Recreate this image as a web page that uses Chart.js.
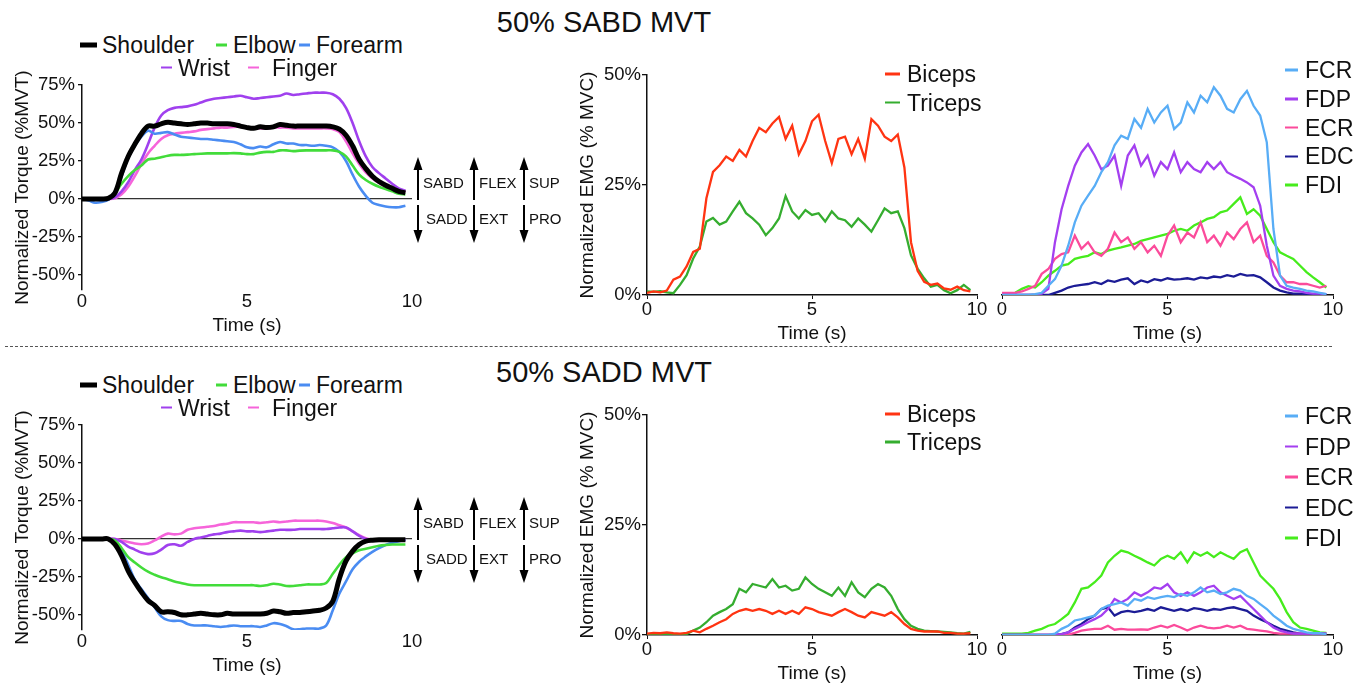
<!DOCTYPE html>
<html>
<head>
<meta charset="utf-8">
<title>50% SABD / SADD MVT</title>
<script src="https://cdn.jsdelivr.net/npm/chart.js@4.4.0/dist/chart.umd.min.js"></script>
<style>
    body { margin: 0; background: #fff; font-family: "Liberation Sans", Arial, Helvetica, sans-serif; color: #111; }
    #figura { position: relative; width: 1371px; height: 687px; overflow: hidden; }
    canvas { position: absolute; }
    .titulo { position: absolute; font-size: 29px; transform: translate(-50%, -50%); white-space: nowrap; }
    .leg { position: absolute; font-size: 23px; line-height: 1; white-space: nowrap; transform: translateY(-50%); display: flex; align-items: center; }
    .leg i { display: inline-block; }
    .dir { position: absolute; font-size: 15px; line-height: 1; transform: translateY(-50%); }
    .corte { position: absolute; left: 5px; width: 1327px; top: 346px; border-top: 1px dashed #555; }
    svg { position: absolute; left: 0; top: 0; }
</style>
</head>
<body>
<div id="figura">
    <div class="titulo" style="left:604px; top:22px;">50% SABD MVT</div>
    <div class="titulo" style="left:604px; top:372px;">50% SADD MVT</div>
    <div class="corte"></div>
    <svg id="flechas" width="1371" height="687"></svg>

    <canvas id="torqueSabd" width="427" height="269" style="left:0px; top:71px;"></canvas>
    <canvas id="brazoSabd" width="432" height="282" style="left:560px; top:63px;"></canvas>
    <canvas id="manoSabd" width="358" height="282" style="left:990px; top:63px;"></canvas>

    <canvas id="torqueSadd" width="427" height="269" style="left:0px; top:411px;"></canvas>
    <canvas id="brazoSadd" width="432" height="282" style="left:560px; top:403px;"></canvas>
    <canvas id="manoSadd" width="358" height="282" style="left:990px; top:403px;"></canvas>
</div>

<script>
// ==============================
// DATOS
// ==============================

const tiempo = [0, 0.2, 0.4, 0.6, 0.8, 1, 1.2, 1.4, 1.6, 1.8, 2, 2.2, 2.4, 2.6, 2.8, 3, 3.2, 3.4, 3.6, 3.8, 4, 4.2, 4.4, 4.6, 4.8, 5, 5.2, 5.4, 5.6, 5.8, 6, 6.2, 6.4, 6.6, 6.8, 7, 7.2, 7.4, 7.6, 7.8, 8, 8.2, 8.4, 8.6, 8.8, 9, 9.2, 9.4, 9.6, 9.8];

const marcasTiempo = [0, 5, 10];
const marcasTorque = [-50, -25, 0, 25, 50, 75];
const marcasEmg = [0, 25, 50];

const nombresTorque = ["Shoulder", "Elbow", "Forearm", "Wrist", "Finger"];
const coloresTorque = ["#000000", "#42dc3a", "#4a8cf2", "#a040ee", "#f664da"];

const nombresBrazo = ["Biceps", "Triceps"];
const coloresBrazo = ["#ff3412", "#35ad2f"];

const nombresMano = ["FCR", "FDP", "ECR", "EDC", "FDI"];
const coloresMano = ["#58adf6", "#a43ff0", "#fb4b9b", "#1c1c96", "#46ec1c"];

// Torque normalizado (%MVT) - 50% SABD
const shoulderSabd = [0, 0, 0, 0, 0.5, 4, 17, 28, 36, 43, 48, 48, 49.5, 50.5, 50, 49.5, 49, 49.5, 50, 50, 49.5, 49.5, 49.5, 49, 48, 47, 46.5, 47.5, 47, 47.5, 49, 48.5, 48, 48, 48, 48, 48, 48, 47.5, 46, 42, 35, 26, 20, 15, 11.5, 9, 7, 5, 4];
const elbowSabd = [0, 0, 0, 0, 0.3, 4, 10, 15, 19, 22, 26, 26.5, 27.5, 28.5, 29, 29, 29.2, 29.5, 29.8, 30, 30, 30, 30, 30.2, 30, 29.5, 29.5, 30.5, 31, 31, 32, 32, 31.5, 31.8, 32, 32, 32, 32, 32, 31, 28, 22, 16, 12.5, 10, 8, 6.5, 5, 3.5, 3];
const forearmSabd = [0, -1, -2.5, -2, -0.5, 4, 15, 27, 35, 41, 45, 43, 43.5, 44, 42.5, 41, 40.5, 40, 39.5, 39.5, 39, 38.5, 38, 37.5, 36, 34, 33.5, 34.5, 34, 36, 37.5, 36.5, 36.5, 35.5, 35.5, 35, 35.5, 35, 34, 31, 25, 16, 8, 2, -2.5, -4, -5, -5.5, -5.5, -4.5];
const wristSabd = [0, 0, 0, 0, 0, 1, 5, 11, 19, 26, 36, 47, 55, 58.5, 60, 60.5, 61, 62, 63.5, 65, 66, 66.5, 67, 67.5, 68, 67, 66, 66.5, 67, 67.5, 68, 69.5, 68.5, 69, 69.5, 70, 70, 70, 69, 66, 60, 50, 38, 28, 21, 17, 13.5, 10, 7, 5.5];
const fingerSabd = [0, 0, 0, 0, 0, 0.5, 3, 8, 15, 23, 30, 35, 39.5, 42, 43, 43.5, 44, 44.5, 45.5, 46, 46.5, 47, 47, 47.5, 47.5, 47, 47, 46.5, 46.5, 47, 47, 47, 46.5, 46.5, 46.5, 46.5, 46.5, 46.5, 46, 44, 38, 30, 23, 17.5, 13.5, 10.5, 8, 6.5, 5, 4.5];

// Torque normalizado (%MVT) - 50% SADD
const shoulderSadd = [0, 0, 0, 0, 0, -3.7, -11, -21, -28.5, -35, -40.5, -43.8, -48, -48, -48.5, -50, -50, -49.5, -49, -49.5, -50, -50, -49, -49.5, -49.5, -49.5, -49.5, -49.5, -49, -47.5, -48, -49, -48.5, -48.5, -48, -47.5, -47, -45.5, -41, -26, -14.5, -8, -3.7, -1.5, -0.8, -0.5, -0.5, -0.5, -0.5, -0.5];
const elbowSadd = [0, 0, 0, 0, 0, -1, -6, -12, -15.5, -18.8, -21.6, -23.6, -25.3, -26.5, -28, -29, -30, -30.5, -30.5, -30.5, -30.5, -30.5, -30.5, -30.5, -30.5, -30.5, -30.5, -31, -30.5, -29.5, -30, -31, -31, -30.5, -30, -30, -30, -29, -23, -17, -12, -9.5, -7.5, -6.5, -5.5, -4.5, -4, -3.7, -3.7, -3.7];
const forearmSadd = [0, 0, 0, 0, 0, -2, -8, -17, -27, -33, -39, -45, -51, -53.5, -54, -54, -56, -57, -57, -57, -57.5, -58, -57.5, -57, -57.5, -57.5, -57.5, -58, -57, -55.5, -56, -57.5, -59.5, -59.5, -59, -59, -59, -57, -47, -36, -28, -20, -15, -11.5, -8.5, -6, -4, -2.5, -1.5, -0.5];
const wristSadd = [0, 0, 0, 0, 0, 0, -2, -5, -7, -9, -10, -9.5, -7, -4, -3.5, -4.5, -2, 0, 1, 2, 3, 3.5, 4.5, 5, 5.5, 5, 5, 4.5, 5, 5.5, 6, 6, 6, 6.5, 6.5, 6.5, 6.5, 6.5, 7, 7.5, 7.5, 5, 2, 0, -0.5, -0.5, -0.5, -0.5, -0.5, -0.5];
const fingerSadd = [0, 0, 0, 0, 0, 0, -1, -2, -3, -3.5, -3, -1, 1.5, 3.5, 3, 3.5, 6, 7, 7.5, 8, 8.5, 9.5, 10, 11, 11, 11, 11, 10.5, 11, 11.5, 11, 11.5, 12, 12, 12, 12, 12, 11.5, 10.5, 9, 7.5, 5, 2.5, 0.5, -0.5, -1, -1, -1, -1, -1];

// EMG normalizado (% MVC) - 50% SABD
const bicepsSabd = [0.5, 0.8, 0.6, 1, 3.5, 4.2, 6.5, 9.8, 10.5, 22, 28, 29.5, 31.5, 30.5, 33, 31.5, 35, 38, 37, 39, 40.5, 35.5, 38.5, 32, 35, 39.5, 41, 35, 30, 35.5, 36, 32, 35.5, 31, 40, 38.5, 36, 35, 36.5, 29, 12, 5.5, 3, 2.3, 2.6, 1.5, 1.2, 1.9, 1.1, 0.8];
const tricepsSabd = [0.8, 0.7, 0.9, 0.6, 0.4, 2.3, 4.5, 8.3, 11, 16.7, 17.5, 16, 16.7, 19, 21.2, 18.6, 17.4, 16, 13.6, 15.2, 17.4, 22.5, 19, 17.4, 19.3, 18.2, 18.6, 16.7, 19, 17.4, 17, 15.5, 17.4, 16, 14.4, 17, 19.7, 18.6, 19, 15.2, 9, 6, 3.8, 1.9, 2.3, 1.1, 0.4, 1.1, 2.3, 1.1];
const fcrSabd = [0, 0, 0, 0, 0, 0.2, 0.5, 2.1, 3.6, 6.7, 11.2, 16.5, 20.3, 22.6, 24.8, 27.9, 30.2, 34, 36.2, 35.5, 40, 38, 42.3, 39.2, 41.5, 43, 37.7, 39.2, 43.8, 41.5, 45.3, 43.8, 47.2, 45.3, 42.3, 41.5, 44.5, 46.4, 43, 40.8, 34.7, 15, 4.4, 2.1, 1.7, 1.4, 1, 0.8, 0.5, 0.2];
const fdpSabd = [0, 0, 0, 0, 0, 0, 0.3, 1.4, 12, 19.5, 24.8, 29.4, 32.4, 34.3, 31.7, 28.6, 29.4, 31.7, 24.8, 31.7, 34, 29.4, 31.7, 27.1, 30.2, 28.6, 32.4, 27.9, 30.2, 28.6, 27.9, 30.2, 28.6, 30.2, 27.9, 27.1, 26.4, 25.6, 24.5, 20.3, 11.2, 4.4, 2.1, 1.4, 1, 0.8, 0.5, 0.3, 0.3, 0.2];
const ecrSabd = [0.5, 0.5, 0.5, 0.8, 1.4, 2.1, 4.8, 5.9, 8.2, 9.3, 9.7, 13.5, 10.5, 12, 9.7, 8.9, 10.5, 14.2, 12, 13.1, 10.5, 12, 9.7, 11.2, 8.9, 13.5, 15.8, 12, 14.2, 13.1, 16.5, 12, 13.5, 11.2, 14.2, 12.7, 15, 16.5, 12, 13.5, 8.9, 7.4, 4.4, 2.9, 2.9, 2.5, 2.5, 2.1, 1.7, 2.1];
const edcSabd = [0, 0, 0, 0, 0, 0, 0, 0, 0.5, 1, 1.7, 2.1, 2.3, 2.5, 2.9, 2.5, 3.3, 3, 3.5, 3.8, 2.5, 3.3, 2.9, 3.6, 3.3, 3.8, 3.5, 3.6, 3.8, 3.5, 4, 3.8, 4.2, 4, 4.5, 4.2, 4.8, 4.4, 4.5, 4, 2.9, 1.7, 1, 0.6, 0.3, 0.3, 0.2, 0.2, 0.1, 0.1];
const fdiSabd = [0.3, 0.3, 0.5, 1.4, 2, 1.7, 2.9, 4.4, 5.5, 6.7, 7, 8.2, 8.6, 8.9, 9.7, 9.3, 10.1, 10.5, 10.8, 11.2, 11.6, 12.3, 12.7, 13.1, 13.5, 13.9, 14.6, 15, 14.6, 15.8, 16.5, 17.3, 17.7, 18.8, 19.2, 20.7, 22.2, 18.4, 19.5, 18, 15, 12, 9.7, 8.9, 8.2, 6.7, 5.2, 4, 2.9, 1.7];

// EMG normalizado (% MVC) - 50% SADD
const bicepsSadd = [0.3, 0.5, 0.4, 0.6, 0.4, 0.3, 0.5, 1, 0.6, 1.4, 2.1, 2.9, 3.6, 4.8, 5.5, 5.9, 5.5, 5.9, 5.5, 4.8, 5.5, 4.8, 5.5, 4.8, 6.3, 5.9, 5.2, 4.8, 4.4, 5.2, 5.9, 5.2, 4.4, 4, 5.2, 4.8, 4.4, 5.2, 4, 2.5, 1.4, 1, 0.8, 0.8, 0.8, 0.5, 0.5, 0.3, 0.3, 0.4];
const tricepsSadd = [0.2, 0.2, 0.2, 0.2, 0.2, 0.2, 0.2, 1, 1.7, 2.9, 4.4, 5.2, 5.9, 7, 10.5, 9.7, 11.6, 11.2, 10.8, 12.7, 10.8, 11.2, 10.1, 10.5, 13.1, 11.6, 10.5, 9.7, 8.9, 10.8, 8.9, 12, 9.7, 8.6, 10.5, 11.6, 10.8, 8.9, 5.9, 3.6, 2.1, 1.4, 1, 0.9, 0.8, 0.7, 0.6, 0.4, 0.3, 0.7];
const fcrSadd = [0, 0, 0, 0, 0, 0, 0, 0, 0.3, 1.4, 2.1, 3.3, 3.6, 4, 4.4, 5.9, 6.7, 7, 7.4, 6.7, 8.2, 7.8, 8.6, 8.2, 8.6, 8.9, 8.6, 9.3, 8.9, 9.7, 10.8, 9.7, 10.1, 9.3, 9.7, 10.5, 10.1, 8.9, 8.2, 7, 5.9, 4.4, 3.3, 2.1, 1.4, 1, 0.6, 0.4, 0.4, 0.2];
const fdpSadd = [0, 0, 0, 0, 0, 0, 0, 0, 0, 0.2, 0.6, 1.4, 2.1, 2.9, 3.6, 4.4, 5.9, 8.2, 7.4, 8.2, 9.7, 8.9, 9.7, 10.8, 10.5, 11.6, 9.7, 8.9, 9.7, 8.9, 9.7, 10.8, 11.2, 9.7, 8.9, 8.2, 8.9, 7.4, 5.9, 4.4, 2.9, 1.7, 1, 0.6, 0.3, 0.3, 0.3, 0.3, 0.3, 0.3];
const ecrSadd = [0, 0, 0, 0, 0, 0, 0, 0, 0, 0, 0.1, 0.5, 1, 1.2, 1.4, 1.4, 2.1, 1.2, 1.4, 1.2, 1.2, 1.3, 1.2, 1.7, 2.1, 1.7, 2.3, 1.7, 1, 1.7, 2.1, 1.7, 1.5, 1.7, 2.1, 1.7, 2.1, 1.4, 1.2, 1, 0.8, 0.5, 0.3, 0.3, 0.3, 0.3, 0.3, 0.3, 0.3, 0.3];
const edcSadd = [0, 0, 0, 0, 0, 0, 0, 0, 0, 0.2, 0.6, 1.7, 2.5, 3.6, 4.4, 5.9, 6.3, 4.4, 5.2, 5.5, 5.2, 5.5, 5.9, 5.5, 6.3, 5.9, 5.5, 5.9, 5.5, 6.1, 5.9, 5.5, 5.9, 5.7, 6.1, 6.3, 5.9, 5.5, 4.4, 3.6, 2.9, 2.1, 1.4, 1, 0.6, 0.3, 0.3, 0.3, 0.3, 0.3];
const fdiSadd = [0.3, 0.3, 0.3, 0.3, 0.5, 1, 1.4, 2.1, 2.5, 3.6, 4.8, 7.4, 10.5, 10.8, 12, 13.5, 16.5, 18, 19.2, 18.8, 18, 17.3, 16.5, 15.8, 17.3, 18, 17.3, 18.8, 16.5, 18.8, 18, 18.8, 17.7, 18.8, 18, 17.3, 18.8, 19.5, 16.5, 13.5, 12, 10.5, 8.2, 5.2, 2.9, 1.7, 1.4, 1, 0.6, 0.5];

// ==============================
// GRAFICOS
// ==============================

Chart.defaults.font.family = '"Liberation Sans", Arial, Helvetica, sans-serif';
Chart.defaults.color = "#111";

function serie(valores) {
    return valores.map((v, i) => ({ x: tiempo[i], y: v }));
}

function crearPanel(id, series, nombres, colores, cfg) {

    const datasets = series.map((valores, i) => ({
        label: nombres[i],
        data: serie(valores),
        borderColor: colores[i],
        borderWidth: (cfg.grosores && cfg.grosores[i]) || cfg.grosor,
        pointRadius: 0,
        tension: cfg.suave ? 0.35 : 0,
        fill: false
    }));

    new Chart(document.getElementById(id), {
        type: "line",
        data: { datasets: datasets },
        options: {
            responsive: false,
            animation: false,
            events: [],
            layout: { padding: cfg.relleno },
            plugins: { legend: { display: false }, tooltip: { enabled: false } },
            scales: {
                x: {
                    type: "linear",
                    min: 0,
                    max: 10,
                    afterBuildTicks: eje => { eje.ticks = marcasTiempo.map(v => ({ value: v })); },
                    afterFit: eje => { eje.height = 50; },
                    border: { display: cfg.bordeX, color: "#111", width: 1.5 },
                    grid: { display: cfg.bordeX, drawOnChartArea: false, drawTicks: cfg.bordeX, tickLength: 4, color: "#111" },
                    ticks: { padding: cfg.padX, font: { size: 18.5 }, maxRotation: 0 },
                    title: { display: true, text: "Time (s)", font: { size: 19 }, padding: { top: 0, bottom: cfg.padTituloX } }
                },
                y: {
                    display: cfg.ejeY,
                    min: cfg.min,
                    max: cfg.max,
                    afterBuildTicks: eje => { eje.ticks = cfg.marcas.map(v => ({ value: v })); },
                    afterFit: eje => { eje.width = cfg.anchoY; },
                    border: { display: true, color: "#111", width: 1.5 },
                    grid: {
                        drawOnChartArea: cfg.lineaCero,
                        color: ctx => (cfg.lineaCero && ctx.tick && ctx.tick.value === 0) ? "#333" : "rgba(0,0,0,0)",
                        lineWidth: 1.3,
                        tickColor: "#111",
                        tickLength: cfg.largoMarca
                    },
                    ticks: { padding: cfg.padY, font: { size: 18.5 }, callback: v => v + "%" },
                    title: { display: true, text: cfg.tituloY, font: { size: 19 }, padding: { top: cfg.padTituloY, bottom: 0 } }
                }
            }
        }
    });
}

const cfgTorque = {
    min: -60, max: 75, marcas: marcasTorque, ejeY: true, anchoY: 82, lineaCero: true,
    largoMarca: 4, padY: 3, padX: 1, padTituloX: 3, padTituloY: 11, bordeX: false,
    tituloY: "Normalized Torque (%MVT)", suave: true, grosor: 2.6, grosores: [5],
    relleno: { left: 0, top: 12, right: 15, bottom: 0 }
};

const cfgBrazo = {
    min: 0, max: 50, marcas: marcasEmg, ejeY: true, anchoY: 87, lineaCero: false,
    largoMarca: 5, padY: 1, padX: 0, padTituloX: 0, padTituloY: 16, bordeX: true,
    tituloY: "Normalized EMG (% MVC)", suave: false, grosor: 2.3,
    relleno: { left: 0, top: 12, right: 15, bottom: 0 }
};

const cfgMano = Object.assign({}, cfgBrazo, {
    ejeY: false, anchoY: 0, relleno: { left: 12, top: 12, right: 15, bottom: 0 }
});

crearPanel("torqueSabd", [shoulderSabd, elbowSabd, forearmSabd, wristSabd, fingerSabd], nombresTorque, coloresTorque, cfgTorque);
crearPanel("brazoSabd", [bicepsSabd, tricepsSabd], nombresBrazo, coloresBrazo, cfgBrazo);
crearPanel("manoSabd", [fcrSabd, fdpSabd, ecrSabd, edcSabd, fdiSabd], nombresMano, coloresMano, cfgMano);

crearPanel("torqueSadd", [shoulderSadd, elbowSadd, forearmSadd, wristSadd, fingerSadd], nombresTorque, coloresTorque, cfgTorque);
crearPanel("brazoSadd", [bicepsSadd, tricepsSadd], nombresBrazo, coloresBrazo, cfgBrazo);
crearPanel("manoSadd", [fcrSadd, fdpSadd, ecrSadd, edcSadd, fdiSadd], nombresMano, coloresMano, cfgMano);

// ==============================
// LEYENDAS Y FLECHAS
// ==============================

const figura = document.getElementById("figura");

function leyenda(nombre, color, x, y, ancho, grueso, espacio) {
    const div = document.createElement("div");
    div.className = "leg";
    div.style.left = x + "px";
    div.style.top = y + "px";
    div.innerHTML = `<i style="width:${ancho}px; height:${grueso}px; background:${color}; margin-right:${espacio}px;"></i><span>${nombre}</span>`;
    figura.appendChild(div);
}

// posiciones de la leyenda de torque (fila 1 y fila 2)
const posTorque = [
    { x: 80, y: 45, ancho: 17, grueso: 4.5, espacio: 5 },
    { x: 216, y: 45, ancho: 11, grueso: 2.5, espacio: 6 },
    { x: 299, y: 45, ancho: 11, grueso: 2.5, espacio: 6 },
    { x: 161, y: 67.5, ancho: 11, grueso: 2.5, espacio: 6 },
    { x: 248, y: 67.5, ancho: 11, grueso: 2.5, espacio: 13 }
];

[0, 340].forEach((dy, fila) => {

    posTorque.forEach((p, i) => {
        leyenda(nombresTorque[i], coloresTorque[i], p.x, p.y + dy, p.ancho, p.grueso, p.espacio);
    });

    const yBrazo = fila === 0 ? [74, 102.5] : [414, 442];
    nombresBrazo.forEach((n, i) => leyenda(n, coloresBrazo[i], 885, yBrazo[i], 15, 2.5, 7));

    const y0 = fila === 0 ? 70 : 416;
    const paso = fila === 0 ? 28.8 : 30.5;
    nombresMano.forEach((n, i) => leyenda(n, coloresMano[i], 1285, y0 + paso * i, 13, 2.5, 7));

    // flechas de direccion
    const svg = document.getElementById("flechas");
    const columnas = [
        { x: 418, arriba: "SABD", abajo: "SADD", dx: 5, dxAbajo: 8 },
        { x: 474, arriba: "FLEX", abajo: "EXT", dx: 5, dxAbajo: 5 },
        { x: 524, arriba: "SUP", abajo: "PRO", dx: 5, dxAbajo: 5 }
    ];

    columnas.forEach(c => {
        svg.innerHTML += `
            <line x1="${c.x}" y1="${200 + dy}" x2="${c.x}" y2="${168 + dy}" stroke="#000" stroke-width="2"/>
            <polygon points="${c.x - 4.5},${170 + dy} ${c.x + 4.5},${170 + dy} ${c.x},${157 + dy}" fill="#000"/>
            <line x1="${c.x}" y1="${205 + dy}" x2="${c.x}" y2="${232 + dy}" stroke="#000" stroke-width="2"/>
            <polygon points="${c.x - 4.5},${230 + dy} ${c.x + 4.5},${230 + dy} ${c.x},${243 + dy}" fill="#000"/>
        `;

        const t1 = document.createElement("div");
        t1.className = "dir";
        t1.style.left = (c.x + c.dx) + "px";
        t1.style.top = (182 + dy) + "px";
        t1.textContent = c.arriba;
        figura.appendChild(t1);

        const t2 = document.createElement("div");
        t2.className = "dir";
        t2.style.left = (c.x + c.dxAbajo) + "px";
        t2.style.top = (218 + dy) + "px";
        t2.textContent = c.abajo;
        figura.appendChild(t2);
    });

});
</script>
</body>
</html>
